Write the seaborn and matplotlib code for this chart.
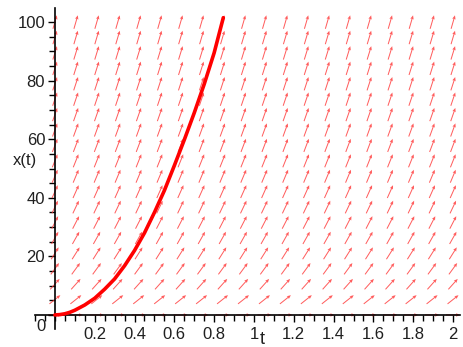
import numpy as np
import pandas as pd
import matplotlib
matplotlib.use("Agg")
import matplotlib.pyplot as plt
import matplotlib.transforms as mtransforms
from matplotlib.ticker import MultipleLocator, FixedLocator, FixedFormatter
import seaborn as sns

# Direction field grid (20 x 20) and slope dx/dt read per row (depends on x only)
t_grid = np.linspace(0, 2, 20)
x_grid = np.linspace(0, 100, 20)
row_slopes = [0, 54, 76, 93, 108, 121, 132, 143, 152, 162,
              170, 179, 187, 194, 202, 209, 216, 222, 229, 235]

# Solution curve
curve_t = [0, 0.025, 0.05, 0.075, 0.1, 0.15, 0.2, 0.25, 0.3, 0.35, 0.4, 0.45,
           0.5, 0.55, 0.6, 0.65, 0.7, 0.75, 0.8, 0.846]
curve_x = [0, 0.12, 0.4, 0.9, 1.6, 3.4, 5.7, 8.8, 12.3, 16.8, 22, 28,
           35, 42.5, 51, 59.8, 69, 78.8, 89.5, 101.5]

x_tick_vals = [0.2, 0.4, 0.6, 0.8, 1.0, 1.2, 1.4, 1.6, 1.8, 2.0]
x_tick_labels = ["0.2", "0.4", "0.6", "0.8", "1", "1.2", "1.4", "1.6", "1.8", "2"]
y_tick_vals = [0, 20, 40, 60, 80, 100]
y_tick_labels = ["0", "20", "40", "60", "80", "100"]

sns.set_style("white")
plt.rcParams["font.family"] = ["Liberation Sans", "DejaVu Sans"]

W, H = 464, 347
fig = plt.figure(figsize=(W / 100, H / 100), dpi=100)
ax = fig.add_axes([35 / W, 1 - 329 / H, (460 - 35) / W, (329 - 8) / H])
xlim = (-0.1, 2.035)
ylim = (-4.8, 104.8)
ax.set_xlim(*xlim)
ax.set_ylim(*ylim)

# pixel scale to get arrow directions in screen space
ax_w_px = (460 - 35)
ax_h_px = (329 - 8)
sx = ax_w_px / (xlim[1] - xlim[0])
sy = ax_h_px / (ylim[1] - ylim[0])

T, X = np.meshgrid(t_grid, x_grid)
S = np.array(row_slopes, dtype=float)[:, None] * np.ones_like(T)
du = sx * 1.0
dv = sy * S
norm = np.hypot(du, dv)
U = du / norm
V = dv / norm
ax.quiver(T, X, U, V, angles="uv", scale_units="inches", scale=1 / 0.14,
          pivot="middle", color="#ff3535", alpha=0.8, units="dots",
          width=1.0, headwidth=3.5, headlength=4, headaxislength=3.5, zorder=1)

df = pd.DataFrame({"t": curve_t, "x": curve_x})
sns.lineplot(data=df, x="t", y="x", ax=ax, color="#ff0000", linewidth=2.6,
             sort=False, estimator=None, zorder=3)

# Axes through origin
for s in ["top", "right"]:
    ax.spines[s].set_visible(False)
ax.spines["left"].set_position(("data", 0))
ax.spines["bottom"].set_position(("data", 0))
for s in ["left", "bottom"]:
    ax.spines[s].set_color("black")
    ax.spines[s].set_linewidth(1.2)
    ax.spines[s].set_zorder(2)

ax.xaxis.set_major_locator(FixedLocator(x_tick_vals))
ax.xaxis.set_major_formatter(FixedFormatter(x_tick_labels))
ax.xaxis.set_minor_locator(MultipleLocator(0.05))
ax.yaxis.set_major_locator(FixedLocator(y_tick_vals))
ax.yaxis.set_major_formatter(FixedFormatter(y_tick_labels))
ax.yaxis.set_minor_locator(MultipleLocator(5))
ax.tick_params(axis="both", which="major", direction="out", length=5, width=1,
               color="black", labelsize=12, labelcolor="#202020", pad=2,
               bottom=True, left=True)
ax.tick_params(axis="both", which="minor", direction="out", length=4, width=1,
               color="black", bottom=True, left=True)
ax.tick_params(axis="x", which="major", pad=4)
ax.set_xlabel("")
ax.set_ylabel("")

# shift the "0" label down like the original
lab0 = ax.get_yticklabels()[0]
lab0.set_transform(lab0.get_transform() +
                   mtransforms.ScaledTranslation(0, -10 / 100, fig.dpi_scale_trans))

fig.text(262 / W, 1 - 340 / H, "t", fontsize=13, ha="center", va="center",
         color="#202020")
fig.text(25 / W, 1 - 160 / H, "x(t)", fontsize=12, ha="center", va="center",
         color="#202020")

fig.savefig("out.png", dpi=100)
